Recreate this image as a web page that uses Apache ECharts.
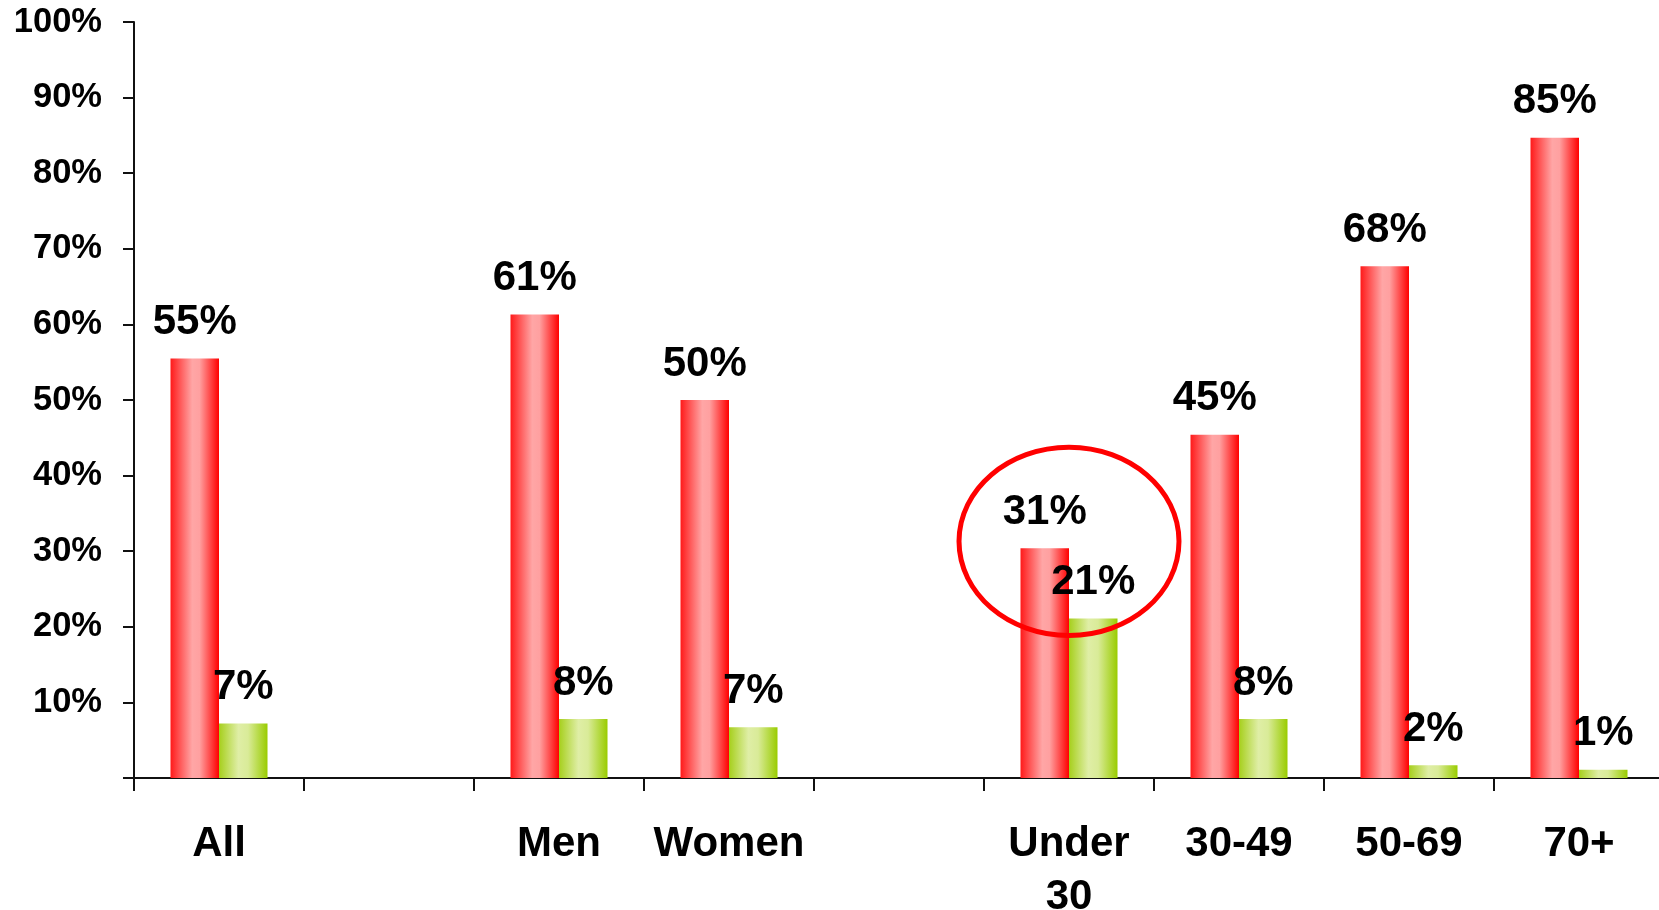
<!DOCTYPE html>
<html>
<head>
<meta charset="utf-8">
<style>
  html, body { margin: 0; padding: 0; background: #ffffff; }
  #chart { width: 1659px; height: 910px; }
</style>
<script src="https://cdn.jsdelivr.net/npm/echarts@6/dist/echarts.min.js"></script>
</head>
<body>
<div id="chart"></div>
<script>
// ---- data ----
const categories = ['All', '', 'Men', 'Women', '', 'Under\n30', '30-49', '50-69', '70+'];
const redValues   = [55.5, null, 61.3, 50.0, null, 30.4, 45.4, 67.7, 84.7];
const greenValues = [7.2,  null, 7.8,  6.7,  null, 21.1, 7.8,  1.7,  1.1];
const redLabels   = ['55%', '', '61%', '50%', '', '31%', '45%', '68%', '85%'];
const greenLabels = ['7%',  '', '8%',  '7%',  '', '21%', '8%',  '2%',  '1%'];
const yTicks = [0, 10, 20, 30, 40, 50, 60, 70, 80, 90, 100];
const highlightIndex = 5;     // "Under 30"
const highlightValue = 31.3;

const FONT = '"Liberation Sans", Arial, Helvetica, sans-serif';

const chart = echarts.init(document.getElementById('chart'), null, { renderer: 'canvas' });

function hGrad(stops) {
  return new echarts.graphic.LinearGradient(0, 0, 1, 0, stops);
}
const redGrad = hGrad([
  { offset: 0, color: '#ff1a1a' },
  { offset: 0.45, color: '#ffa6a6' },
  { offset: 0.6, color: '#ffa0a0' },
  { offset: 1, color: '#ff0000' }
]);
const greenGrad = hGrad([
  { offset: 0, color: '#a6cf1c' },
  { offset: 0.4, color: '#dfeea6' },
  { offset: 0.6, color: '#d9eb98' },
  { offset: 1, color: '#99cc00' }
]);

const labelStyle = {
  show: true,
  position: 'top',
  distance: 15,
  color: '#000',
  fontFamily: FONT,
  fontWeight: 'bold',
  fontSize: 42
};

chart.setOption({
  backgroundColor: '#ffffff',
  animation: false,
  grid: { left: 134, top: 22, bottom: 132, right: -5, containLabel: false, outerBoundsMode: 'none' },
  xAxis: {
    type: 'category',
    data: categories,
    axisLine: { show: true, lineStyle: { color: '#111', width: 2 } },
    axisTick: { show: true, alignWithLabel: false, interval: 0, length: 13, lineStyle: { color: '#111', width: 2 } },
    axisLabel: {
      interval: 0,
      margin: 40,
      color: '#000',
      fontFamily: FONT,
      fontWeight: 'bold',
      fontSize: 42,
      lineHeight: 53
    },
    splitLine: { show: false }
  },
  yAxis: {
    type: 'value',
    min: yTicks[0],
    max: yTicks[yTicks.length - 1],
    interval: 10,
    axisLine: { show: true, lineStyle: { color: '#111', width: 2 } },
    axisTick: { show: true, length: 11, lineStyle: { color: '#111', width: 2 } },
    axisLabel: {
      margin: 32,
      color: '#000',
      fontFamily: FONT,
      fontWeight: 'bold',
      fontSize: 34.5,
      padding: [4, 0, 0, 0],
      formatter: v => (v === 0 ? '' : v + '%')
    },
    splitLine: { show: false }
  },
  series: [
    {
      type: 'bar',
      data: redValues,
      barWidth: 48.5,
      barGap: '0%',
      itemStyle: { color: redGrad },
      label: Object.assign({}, labelStyle, { formatter: p => redLabels[p.dataIndex] })
    },
    {
      type: 'bar',
      data: greenValues,
      barWidth: 48.5,
      barGap: '0%',
      itemStyle: { color: greenGrad },
      label: Object.assign({}, labelStyle, { formatter: p => greenLabels[p.dataIndex] })
    }
  ]
});

// Annotation ellipse around the "Under 30" group, positioned through the axes
const cx = chart.convertToPixel({ xAxisIndex: 0 }, highlightIndex);
const cy = chart.convertToPixel({ yAxisIndex: 0 }, highlightValue);
const band = chart.convertToPixel({ xAxisIndex: 0 }, 1) - chart.convertToPixel({ xAxisIndex: 0 }, 0);
const unit = chart.convertToPixel({ yAxisIndex: 0 }, 0) - chart.convertToPixel({ yAxisIndex: 0 }, 10);
chart.setOption({
  graphic: [{
    type: 'ellipse',
    shape: { cx: cx, cy: cy, rx: band * 0.647, ry: unit * 1.245 },
    style: { fill: 'none', stroke: '#ff0000', lineWidth: 5 },
    z: 100
  }]
});
</script>
</body>
</html>
